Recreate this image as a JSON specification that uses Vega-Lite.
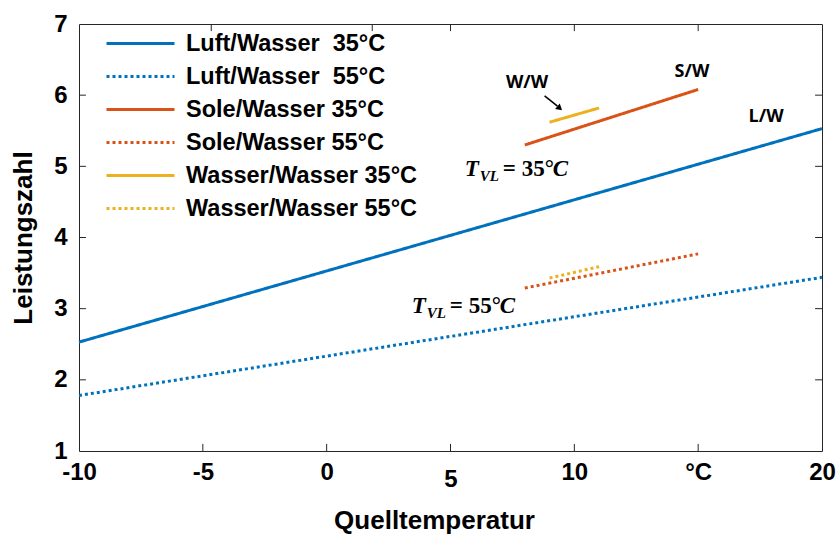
{
  "$schema": "https://vega.github.io/schema/vega-lite/v6.json",
  "width": 743,
  "height": 427,
  "autosize": {"type": "none"},
  "padding": {"left": 79, "top": 24, "right": 15, "bottom": 90},
  "background": "white",
  "config": {
    "view": {"stroke": "#262626", "strokeWidth": 1},
    "axis": {
      "grid": false,
      "domain": false,
      "ticks": false,
      "labelFont": "Liberation Sans",
      "labelFontWeight": "bold",
      "labelFontSize": 24,
      "labelColor": "#000000",
      "titleFont": "Liberation Sans",
      "titleFontWeight": "bold",
      "titleFontSize": 26,
      "titleColor": "#000000"
    },
    "legend": {
      "labelFont": "Liberation Sans",
      "labelFontWeight": "bold",
      "labelFontSize": 23.5,
      "labelColor": "#000000",
      "labelLimit": 400
    }
  },
  "resolve": {"axis": {"x": "independent", "y": "independent"}},
  "datasets": {
    "lines": [
      {"series": "Luft/Wasser\u00a0 35°C", "x": -10, "y": 2.53},
      {"series": "Luft/Wasser\u00a0 35°C", "x": 20, "y": 5.53},
      {"series": "Luft/Wasser\u00a0 55°C", "x": -10, "y": 1.78},
      {"series": "Luft/Wasser\u00a0 55°C", "x": 20, "y": 3.44},
      {"series": "Sole/Wasser 35°C", "x": 8, "y": 5.30},
      {"series": "Sole/Wasser 35°C", "x": 15, "y": 6.08},
      {"series": "Sole/Wasser 55°C", "x": 8, "y": 3.29},
      {"series": "Sole/Wasser 55°C", "x": 15, "y": 3.77},
      {"series": "Wasser/Wasser 35°C", "x": 9, "y": 5.62},
      {"series": "Wasser/Wasser 35°C", "x": 11, "y": 5.82},
      {"series": "Wasser/Wasser 55°C", "x": 9, "y": 3.43},
      {"series": "Wasser/Wasser 55°C", "x": 11, "y": 3.59}
    ],
    "labels": [
      {"label": "W/W", "x": 8.09, "y": 6.17},
      {"label": "S/W", "x": 14.75, "y": 6.32},
      {"label": "L/W", "x": 17.74, "y": 5.69}
    ],
    "arrow": [
      {"x": 8.8, "y": 5.99, "x2": 9.32, "y2": 5.845}
    ],
    "arrowhead": [
      {"x": 9.38, "y": 5.825}
    ],
    "tvl": [
      {"x": 5.58, "y": 4.862, "t": "T", "sub": "VL", "eq": "= 35°", "c": "C"},
      {"x": 3.44, "y": 2.938, "t": "T", "sub": "VL", "eq": "= 55°", "c": "C"}
    ],
    "xticks_bottom": [{"v": -5}, {"v": 0}, {"v": 5}, {"v": 10}, {"v": 15}],
    "xticks_top": [{"v": -4.66}, {"v": 1.84}, {"v": 5}, {"v": 10}, {"v": 15}],
    "yticks": [{"v": 2}, {"v": 3}, {"v": 4}, {"v": 5}, {"v": 6}]
  },
  "layer": [
    {
      "data": {"name": "lines"},
      "mark": {"type": "line", "strokeWidth": 3, "strokeCap": "butt"},
      "encoding": {
        "x": {
          "field": "x", "type": "quantitative",
          "scale": {"domain": [-10, 20], "nice": false, "zero": false},
          "axis": {
            "orient": "bottom",
            "title": "Quelltemperatur",
            "titlePadding": 16,
            "titleX": 355,
            "titleAlign": "center",
            "values": [-10, -5, 0, 5, 10, 15, 20],
            "labelExpr": "datum.value == 15 ? '°C' : toString(datum.value)",
            "labelPadding": {"condition": {"test": "datum.value == 5", "value": 16}, "value": 9},
            "labelFlush": false
          }
        },
        "y": {
          "field": "y", "type": "quantitative",
          "scale": {"domain": [1, 7], "nice": false, "zero": false},
          "axis": {
            "orient": "left",
            "title": "Leistungszahl",
            "titlePadding": 17,
            "values": [1, 2, 3, 4, 5, 6, 7],
            "labelPadding": 12,
            "labelFlush": false
          }
        },
        "color": {
          "field": "series", "type": "nominal",
          "scale": {
            "domain": ["Luft/Wasser\u00a0 35°C", "Luft/Wasser\u00a0 55°C", "Sole/Wasser 35°C", "Sole/Wasser 55°C", "Wasser/Wasser 35°C", "Wasser/Wasser 55°C"],
            "range": ["#0072BD", "#0072BD", "#D95319", "#D95319", "#EDB120", "#EDB120"]
          },
          "legend": {
            "title": null,
            "orient": "none",
            "legendX": 26,
            "legendY": 3,
            "padding": 0,
            "symbolType": "stroke",
            "symbolSize": 4624,
            "symbolStrokeWidth": 3,
            "labelOffset": 10,
            "clipHeight": 33,
            "rowPadding": 0
          }
        },
        "strokeDash": {
          "field": "series", "type": "nominal",
          "scale": {
            "domain": ["Luft/Wasser\u00a0 35°C", "Luft/Wasser\u00a0 55°C", "Sole/Wasser 35°C", "Sole/Wasser 55°C", "Wasser/Wasser 35°C", "Wasser/Wasser 55°C"],
            "range": [[1, 0], [3, 3], [1, 0], [3, 3], [1, 0], [3, 3]]
          },
          "legend": {
            "title": null,
            "orient": "none",
            "legendX": 26,
            "legendY": 3,
            "padding": 0,
            "symbolType": "stroke",
            "symbolSize": 4624,
            "symbolStrokeWidth": 3,
            "labelOffset": 10,
            "clipHeight": 33,
            "rowPadding": 0
          }
        }
      }
    },
    {
      "data": {"name": "xticks_bottom"},
      "mark": {"type": "rule", "color": "#262626", "strokeWidth": 1},
      "encoding": {
        "x": {"field": "v", "type": "quantitative", "axis": null},
        "y": {"datum": 1, "type": "quantitative", "axis": null},
        "y2": {"datum": 1.1}
      }
    },
    {
      "data": {"name": "xticks_top"},
      "mark": {"type": "rule", "color": "#262626", "strokeWidth": 1},
      "encoding": {
        "x": {"field": "v", "type": "quantitative", "axis": null},
        "y": {"datum": 7, "type": "quantitative", "axis": null},
        "y2": {"datum": 6.9}
      }
    },
    {
      "data": {"name": "yticks"},
      "mark": {"type": "rule", "color": "#262626", "strokeWidth": 1},
      "encoding": {
        "y": {"field": "v", "type": "quantitative", "axis": null},
        "x": {"datum": -10, "type": "quantitative", "axis": null},
        "x2": {"datum": -9.72}
      }
    },
    {
      "data": {"name": "yticks"},
      "mark": {"type": "rule", "color": "#262626", "strokeWidth": 1},
      "encoding": {
        "y": {"field": "v", "type": "quantitative", "axis": null},
        "x": {"datum": 20, "type": "quantitative", "axis": null},
        "x2": {"datum": 19.72}
      }
    },
    {
      "data": {"name": "labels"},
      "mark": {"type": "text", "font": "Open Sans", "fontWeight": "bold", "fontSize": 18, "baseline": "middle", "align": "center", "color": "#000000"},
      "encoding": {
        "x": {"field": "x", "type": "quantitative", "axis": null},
        "y": {"field": "y", "type": "quantitative", "axis": null},
        "text": {"field": "label"}
      }
    },
    {
      "data": {"name": "arrow"},
      "mark": {"type": "rule", "strokeWidth": 1.5, "color": "#000000"},
      "encoding": {
        "x": {"field": "x", "type": "quantitative", "axis": null},
        "y": {"field": "y", "type": "quantitative", "axis": null},
        "x2": {"field": "x2"},
        "y2": {"field": "y2"}
      }
    },
    {
      "data": {"name": "arrowhead"},
      "mark": {"type": "point", "shape": "triangle", "angle": 131, "size": 50, "filled": true, "color": "#000000", "opacity": 1},
      "encoding": {
        "x": {"field": "x", "type": "quantitative", "axis": null},
        "y": {"field": "y", "type": "quantitative", "axis": null}
      }
    },
    {
      "data": {"name": "tvl"},
      "mark": {"type": "text", "font": "Liberation Serif", "fontWeight": "bold", "fontStyle": "italic", "fontSize": 23, "baseline": "alphabetic", "align": "left", "color": "#000000"},
      "encoding": {
        "x": {"field": "x", "type": "quantitative", "axis": null},
        "y": {"field": "y", "type": "quantitative", "axis": null},
        "text": {"field": "t"}
      }
    },
    {
      "data": {"name": "tvl"},
      "mark": {"type": "text", "font": "Liberation Serif", "fontWeight": "bold", "fontStyle": "italic", "fontSize": 15, "baseline": "alphabetic", "align": "left", "dx": 15, "dy": 5, "color": "#000000"},
      "encoding": {
        "x": {"field": "x", "type": "quantitative", "axis": null},
        "y": {"field": "y", "type": "quantitative", "axis": null},
        "text": {"field": "sub"}
      }
    },
    {
      "data": {"name": "tvl"},
      "mark": {"type": "text", "font": "Liberation Serif", "fontWeight": "bold", "fontSize": 23, "baseline": "alphabetic", "align": "left", "dx": 38, "color": "#000000"},
      "encoding": {
        "x": {"field": "x", "type": "quantitative", "axis": null},
        "y": {"field": "y", "type": "quantitative", "axis": null},
        "text": {"field": "eq"}
      }
    },
    {
      "data": {"name": "tvl"},
      "mark": {"type": "text", "font": "Liberation Serif", "fontWeight": "bold", "fontStyle": "italic", "fontSize": 23, "baseline": "alphabetic", "align": "left", "dx": 88, "color": "#000000"},
      "encoding": {
        "x": {"field": "x", "type": "quantitative", "axis": null},
        "y": {"field": "y", "type": "quantitative", "axis": null},
        "text": {"field": "c"}
      }
    }
  ]
}
